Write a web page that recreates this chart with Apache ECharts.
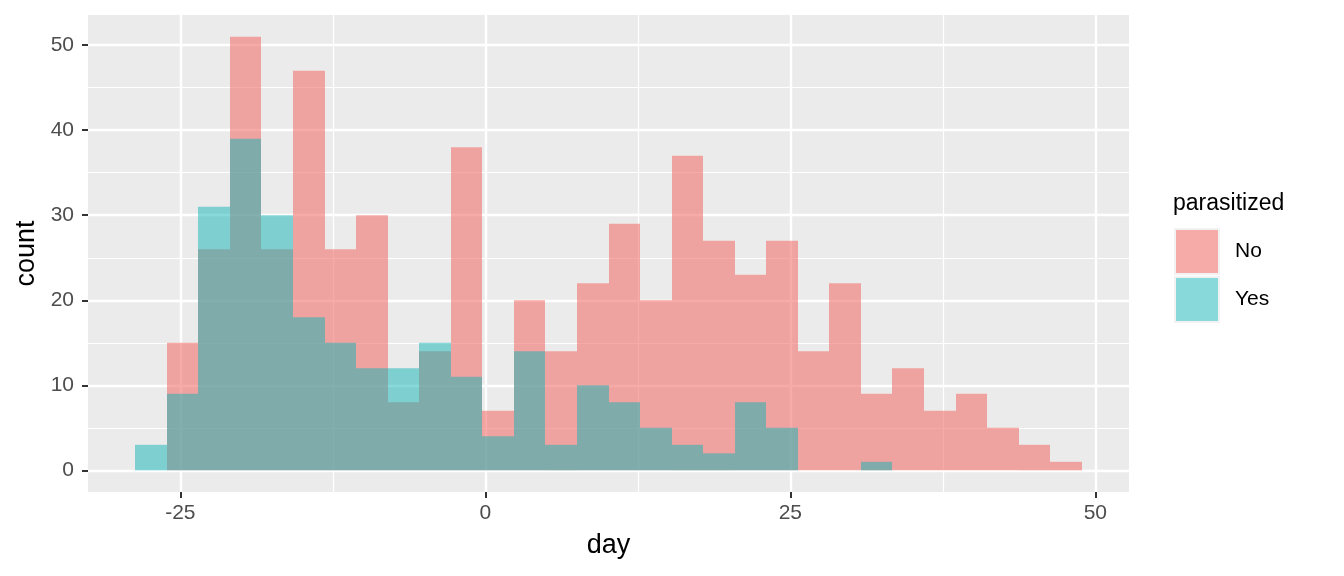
<!DOCTYPE html>
<html><head><meta charset="utf-8">
<script src="https://cdn.jsdelivr.net/npm/echarts@6/dist/echarts.min.js"></script>
<style>html,body{margin:0;padding:0;background:#fff}#c{width:1344px;height:576px}</style>
</head><body><div id="c"></div>
<script>
// Histogram bin edges (day)
const binEdges = [-28.69,-26.10,-23.52,-20.93,-18.35,-15.76,-13.18,-10.59,-8.00,-5.42,-2.83,-0.25,2.34,4.92,7.51,10.10,12.68,15.27,17.85,20.44,23.02,25.61,28.20,30.78,33.37,35.95,38.54,41.12,43.71,46.30,48.88];
// Counts per bin
const countNo  = [0,15,26,51,26,47,26,30,8,14,38,7,20,14,22,29,20,37,27,23,27,14,22,9,12,7,9,5,3,1];
const countYes = [3,9,31,39,30,18,15,12,12,15,11,4,14,3,10,8,5,3,2,8,5,0,0,1,0,0,0,0,0,0];
const groups = ['No','Yes'];
const xMajorTicks = [-25,0,25,50];
const xMinorTicks = [-12.5,12.5,37.5];
const yMajorTicks = [0,10,20,30,40,50];
const yMinorTicks = [5,15,25,35,45];

const FONT = '"Liberation Sans", Arial, Helvetica, sans-serif';
const xMin = -32.57, xMax = 52.76, yMin = -2.55, yMax = 53.55;

function binData(counts){
  return counts.map((c,i)=>[binEdges[i], binEdges[i+1], c]);
}
function renderItem(params, api){
  const c = api.value(2);
  if (!c) return null;
  const p0 = api.coord([api.value(0), c]);
  const p1 = api.coord([api.value(1), 0]);
  const x0 = Math.round(p0[0]), x1 = Math.round(p1[0]);
  return {type:'rect', shape:{x:x0, y:p0[1], width:x1-x0, height:p1[1]-p0[1]}, style: api.style()};
}

const chart = echarts.init(document.getElementById('c'), null, {renderer:'canvas'});
chart.setOption({
  animation:false,
  backgroundColor:'#ffffff',
  textStyle:{fontFamily:FONT},
  grid:{left:88, right:215, top:15, bottom:84, show:true, backgroundColor:'#EBEBEB', borderWidth:0, containLabel:false},
  title:{text:'parasitized', left:1173, top:192, padding:0, textStyle:{fontFamily:FONT, fontSize:23, fontWeight:'normal', color:'#000'}},
  legend:{
    data:groups, orient:'vertical', left:1174, top:228, padding:0,
    itemWidth:44, itemHeight:45, itemGap:1, icon:'rect',
    itemStyle:{borderColor:'#F2F2F2', borderWidth:2},
    textStyle:{fontFamily:FONT, fontSize:21, color:'#000', padding:[0,0,0,11]},
    selectedMode:false
  },
  xAxis:[{
    type:'value', min:xMin, max:xMax,
    name:'day', nameLocation:'middle', nameGap:40,
    nameTextStyle:{fontFamily:FONT, fontSize:27, color:'#000'},
    axisLine:{show:false, onZero:false},
    axisTick:{show:true, length:6, lineStyle:{color:'#333333', width:2}, customValues:xMajorTicks},
    axisLabel:{show:true, margin:11, fontFamily:FONT, fontSize:21, color:'#4D4D4D', customValues:xMajorTicks},
    splitLine:{show:true, lineStyle:{color:'#FFFFFF', width:2.4}}
  },{
    type:'value', min:xMin, max:xMax, position:'top',
    axisLine:{show:false, onZero:false}, axisLabel:{show:false},
    axisTick:{show:false, customValues:xMinorTicks},
    splitLine:{show:true, lineStyle:{color:'#FFFFFF', width:1.2}}
  }],
  yAxis:[{
    type:'value', min:yMin, max:yMax,
    name:'count', nameLocation:'middle', nameGap:48, nameRotate:90,
    nameTextStyle:{fontFamily:FONT, fontSize:27, color:'#000'},
    axisLine:{show:false, onZero:false},
    axisTick:{show:true, length:6, lineStyle:{color:'#333333', width:2}, customValues:yMajorTicks},
    axisLabel:{show:true, margin:14, fontFamily:FONT, fontSize:21, color:'#4D4D4D', customValues:yMajorTicks},
    splitLine:{show:true, lineStyle:{color:'#FFFFFF', width:2.4}}
  },{
    type:'value', min:yMin, max:yMax, position:'right',
    axisLine:{show:false, onZero:false}, axisLabel:{show:false},
    axisTick:{show:false, customValues:yMinorTicks},
    splitLine:{show:true, lineStyle:{color:'#FFFFFF', width:1.2}}
  }],
  series:[{
    name:'No', type:'custom', renderItem:renderItem, xAxisIndex:0, yAxisIndex:0,
    encode:{x:[0,1], y:2}, data:binData(countNo),
    itemStyle:{color:'rgba(242,115,110,0.6)'}
  },{
    name:'Yes', type:'custom', renderItem:renderItem, xAxisIndex:0, yAxisIndex:0,
    encode:{x:[0,1], y:2}, data:binData(countYes),
    itemStyle:{color:'rgba(17,179,181,0.5)'}
  }]
});
</script></body></html>
